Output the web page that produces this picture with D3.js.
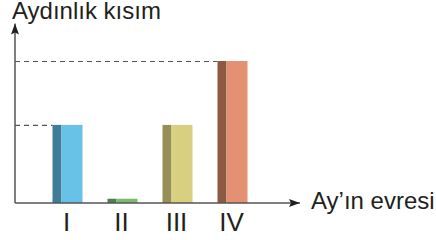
<!DOCTYPE html>
<html>
<head>
<meta charset="utf-8">
<script src="https://cdn.jsdelivr.net/npm/d3@7"></script>
<style>
  body { margin: 0; background: #fff; }
  text { font-family: "Liberation Sans", Arial, sans-serif; fill: #231f20; }
</style>
</head>
<body>
<div id="chart"></div>
<script>
// chart data
var phases = ["I", "II", "III", "IV"];
var lit = [55, 3, 55, 100];
var guideLevels = [55, 100];
var lightColors = ["#68c1e6", "#7dbb6c", "#d8cf80", "#e39073"];
var darkColors = ["#3f7d99", "#4f7f4a", "#978f55", "#8c5943"];

var width = 436, height = 240;
var originX = 15, originY = 203;

var svg = d3.select("#chart").append("svg")
  .attr("width", width)
  .attr("height", height);

// scales
var x = d3.scaleBand()
  .domain(phases)
  .range([40, 260])
  .paddingInner(0.4545)
  .paddingOuter(0.2273);

var y = d3.scaleLinear()
  .domain([0, 100])
  .range([originY, 61]);

// dashed guide lines, each running to the first bar of that height
var barEnd = {};
phases.forEach(function(p, i) { if (barEnd[lit[i]] === undefined) barEnd[lit[i]] = x(p); });

svg.selectAll(".guide")
  .data(guideLevels)
  .enter().append("line")
    .attr("class", "guide")
    .attr("x1", originX)
    .attr("x2", function(d) { return barEnd[d]; })
    .attr("y1", function(d) { return y(d) + 0.5; })
    .attr("y2", function(d) { return y(d) + 0.5; })
    .attr("stroke", "#555")
    .attr("stroke-width", 1.2)
    .attr("stroke-dasharray", "5,4");

// bars: dark side + light face
var darkW = 9;
var bars = svg.selectAll(".bar")
  .data(lit)
  .enter().append("g")
    .attr("class", "bar");

bars.append("rect")
  .attr("x", function(d, i) { return x(phases[i]); })
  .attr("y", function(d) { return y(d); })
  .attr("width", darkW)
  .attr("height", function(d) { return originY - y(d); })
  .attr("fill", function(d, i) { return darkColors[i]; });

bars.append("rect")
  .attr("x", function(d, i) { return x(phases[i]) + darkW; })
  .attr("y", function(d) { return y(d); })
  .attr("width", x.bandwidth() - darkW)
  .attr("height", function(d) { return originY - y(d); })
  .attr("fill", function(d, i) { return lightColors[i]; });

// arrow marker
svg.append("defs").append("marker")
  .attr("id", "arrow")
  .attr("viewBox", "0 0 11 8")
  .attr("refX", 11)
  .attr("refY", 4)
  .attr("markerWidth", 11)
  .attr("markerHeight", 8)
  .attr("markerUnits", "userSpaceOnUse")
  .attr("orient", "auto")
  .append("path")
    .attr("d", "M0,0 L11,4 L0,8 L2,4 Z")
    .attr("fill", "#231f20");

// axes
svg.append("line")
  .attr("x1", originX).attr("y1", originY)
  .attr("x2", 300).attr("y2", originY)
  .attr("stroke", "#555")
  .attr("stroke-width", 1.5)
  .attr("marker-end", "url(#arrow)");

svg.append("line")
  .attr("x1", originX).attr("y1", originY)
  .attr("x2", originX).attr("y2", 23.5)
  .attr("stroke", "#555")
  .attr("stroke-width", 1.5)
  .attr("marker-end", "url(#arrow)");

// category labels
svg.selectAll(".tick")
  .data(phases)
  .enter().append("text")
    .attr("class", "tick")
    .attr("x", function(d) { return x(d) + x.bandwidth() / 2 - 1; })
    .attr("y", 231)
    .attr("text-anchor", "middle")
    .style("font-size", "26px")
    .text(function(d) { return d; });

// axis titles
svg.append("text")
  .attr("x", 12)
  .attr("y", 18.5)
  .style("font-size", "24px")
  .text("Aydınlık kısım");

svg.append("text")
  .attr("x", 311)
  .attr("y", 208.5)
  .style("font-size", "24px")
  .text("Ay’ın evresi");
</script>
</body>
</html>
